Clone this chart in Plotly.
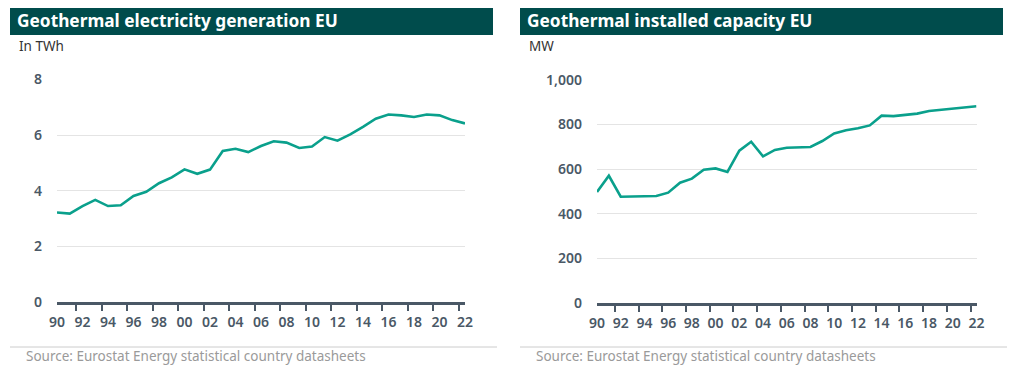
import plotly.graph_objects as go

years = ["90","91","92","93","94","95","96","97","98","99",
         "00","01","02","03","04","05","06","07","08","09",
         "10","11","12","13","14","15","16","17","18","19",
         "20","21","22"]
generation_twh = [3.22, 3.18, 3.45, 3.67, 3.45, 3.48, 3.81, 3.96, 4.27, 4.48,
                  4.77, 4.61, 4.76, 5.43, 5.51, 5.39, 5.61, 5.78, 5.73, 5.54,
                  5.59, 5.93, 5.80, 6.03, 6.30, 6.59, 6.74, 6.71, 6.65, 6.74,
                  6.71, 6.54, 6.42]
capacity_mw = [497, 570, 476, 476, 479, 479, 494, 539, 557, 597,
               603, 587, 683, 723, 657, 686, 696, 699, 699, 726,
               760, 774, 783, 796, 840, 838, 843, 849, 861, 867,
               871, 876, 882]

titles = ["Geothermal electricity generation EU", "Geothermal installed capacity EU"]
units = ["In TWh", "MW"]
source = "Source: Eurostat Energy statistical country datasheets"

# page body has an 8px default margin: figure occupies window pixels 8..1023 x 8..366
OFF = 8
W, H = 1023 - OFF, 366 - OFF
def px(x): return (x - OFF) / W
def py(y): return 1 - (y - OFF) / H

LINE = "#0aa08c"
AXIS = "#4a5866"
TICKFONT = dict(family="Noto Sans", size=14, color="#4a5866", weight=600)
BAR = "#004c4c"

fig = go.Figure()
fig.add_trace(go.Scatter(x=years, y=generation_twh, mode="lines",
                         line=dict(color=LINE, width=2.6), xaxis="x", yaxis="y",
                         showlegend=False))
fig.add_trace(go.Scatter(x=years, y=capacity_mw, mode="lines",
                         line=dict(color=LINE, width=2.6), xaxis="x2", yaxis="y2",
                         showlegend=False))

xcommon = dict(type="category", dtick=2, tickson="boundaries", showgrid=False,
               showline=True, linewidth=3, linecolor=AXIS, ticks="outside",
               ticklen=6, tickwidth=2, tickcolor=AXIS, tickfont=TICKFONT,
               tickangle=0, ticklabelstandoff=5, automargin=False, fixedrange=True)
ycommon = dict(showgrid=True, gridcolor="#e4e4e4", gridwidth=1, zeroline=False,
               showline=False, tickfont=TICKFONT, ticks="", ticklabelstandoff=14,
               automargin=False, fixedrange=True)

fig.update_layout(
    template="none",
    width=W, height=H, margin=dict(l=0, r=0, t=0, b=0, autoexpand=False),
    paper_bgcolor="white", plot_bgcolor="white",
    xaxis=dict(domain=[px(57), px(465)], anchor="y", **xcommon),
    yaxis=dict(domain=[py(302), py(79.5)], anchor="x", range=[0, 8],
               tickvals=[0, 2, 4, 6, 8], **ycommon),
    xaxis2=dict(domain=[px(597), px(976.5)], anchor="y2", **xcommon),
    yaxis2=dict(domain=[py(302.7), py(80)], anchor="x2", range=[0, 1000],
                tickvals=[0, 200, 400, 600, 800, 1000], tickformat=",", **ycommon),
)

shapes = []
annotations = []
panels = [(10, 493), (520, 1003)]
for i, (x0, x1) in enumerate(panels):
    shapes.append(dict(type="rect", xref="paper", yref="paper",
                       x0=px(x0), x1=px(x1), y0=py(35), y1=py(7),
                       fillcolor=BAR, line=dict(width=0), layer="below"))
    shapes.append(dict(type="line", xref="paper", yref="paper",
                       x0=px(x0), x1=px(x1 + 4), y0=py(347), y1=py(347),
                       line=dict(color="#cccccc", width=1)))
    annotations.append(dict(text=titles[i], xref="paper", yref="paper",
                            x=px(x0 + 5), y=py(21), xanchor="left", yanchor="middle",
                            showarrow=False,
                            font=dict(family="Noto Sans", size=17.3, color="white", weight=700)))
    annotations.append(dict(text=units[i], xref="paper", yref="paper",
                            x=px(x0 + 7), y=py(46), xanchor="left", yanchor="middle",
                            showarrow=False,
                            font=dict(family="Noto Sans", size=13.5, color="#333333")))
    annotations.append(dict(text=source, xref="paper", yref="paper",
                            x=px(x0 + 14), y=py(356), xanchor="left", yanchor="middle",
                            showarrow=False,
                            font=dict(family="Noto Sans", size=13.5, color="#9a9a9a")))

fig.update_layout(shapes=shapes, annotations=annotations)
fig.write_html("out.html")
